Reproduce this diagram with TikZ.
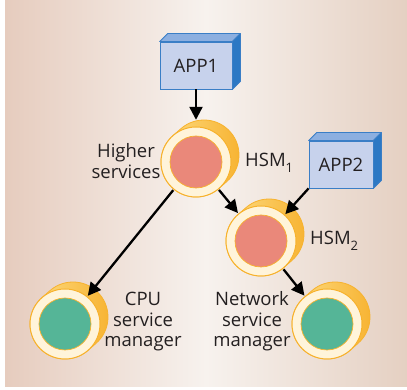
\documentclass[tikz,border=0pt]{standalone}
\usepackage{fontspec}
\setmainfont{Open Sans}
\usetikzlibrary{arrows.meta,calc}
\definecolor{bgL}{RGB}{230,204,190}
\definecolor{bgM}{RGB}{247,242,238}
\definecolor{bgR}{RGB}{229,208,194}
\definecolor{boxFront}{RGB}{199,210,236}
\definecolor{boxEdge}{RGB}{58,126,198}
\definecolor{boxTop}{RGB}{140,175,224}
\definecolor{boxSide}{RGB}{44,120,196}
\definecolor{coinL}{RGB}{253,222,135}
\definecolor{coinR}{RGB}{247,178,48}
\definecolor{coinEdge}{RGB}{247,178,45}
\definecolor{ringFill}{RGB}{255,244,218}
\definecolor{salmon}{RGB}{234,136,122}
\definecolor{teal}{RGB}{85,181,151}
\definecolor{txt}{RGB}{35,31,32}
\newcommand{\coin}[3]{%
  \shade[left color=coinL, right color=coinR, draw=coinEdge, line width=0.8pt]
    ($(#1,#2)+(131.2:35)$) -- ($(#1+8,#2+7)+(131.2:35)$)
    arc[start angle=131.2, end angle=-48.8, radius=35]
    -- ($(#1,#2)+(-48.8:35)$)
    arc[start angle=-48.8, end angle=-228.8, radius=35] -- cycle;
  \filldraw[fill=ringFill, draw=coinEdge, line width=1pt] (#1,#2) circle[radius=35];
  \filldraw[fill=#3, draw=coinEdge, line width=0.7pt] (#1,#2) circle[radius=26];
}
\newcommand{\boxfaces}[1]{%
  \filldraw[fill=boxTop, draw=boxEdge, line width=0.8pt, line join=round]
    (#1.north west) -- ++(8,8) -- ([shift={(8,8)}]#1.north east) -- (#1.north east) -- cycle;
  \filldraw[fill=boxSide, draw=boxEdge, line width=0.8pt, line join=round]
    (#1.south east) -- ([shift={(8,8)}]#1.south east) -- ([shift={(8,8)}]#1.north east) -- (#1.north east) -- cycle;
}
\tikzset{
  appbox/.style={draw=boxEdge, fill=boxFront, line width=0.8pt, inner sep=0pt,
    text=txt, font=\fontsize{18.5}{21}\selectfont},
  coinnode/.style={circle, minimum size=72pt, inner sep=0pt},
  lbl/.style={text=txt, font=\fontsize{18.5}{20.5}\selectfont, align=center, inner sep=0pt},
  arr/.style={line width=2.3pt, draw=black, -{Triangle[length=13pt,width=13pt]}},
}
\newcommand{\subnum}[1]{\raisebox{-0.28em}{\fontsize{13}{13}\selectfont #1}}
\begin{document}
\begin{tikzpicture}[x=1pt,y=1pt]
  \useasboundingbox (0,0) rectangle (407,390);
  \shade[left color=bgL, right color=bgR, middle color=bgM] (5,3) rectangle (407,390);

  % boxes
  \node[appbox, minimum width=72pt, minimum height=47pt] (app1) at (196,324.5) {APP1};
  \boxfaces{app1}
  \node[appbox, minimum width=64pt, minimum height=47pt] (app2) at (341,225.5) {APP2};
  \boxfaces{app2}

  % coins
  \coin{196}{228}{salmon}
  \coin{261}{149}{salmon}
  \coin{65}{66}{teal}
  \coin{327}{66}{teal}
  \node[coinnode] (hsm1) at (196,228) {};
  \node[coinnode] (hsm2) at (261,149) {};
  \node[coinnode] (cpu) at (65,66) {};
  \node[coinnode] (net) at (327,66) {};

  % labels
  \node[lbl] (lhigher) at (126,229) {Higher\\services};
  \node[lbl, anchor=base west] (lhsm1) at (245,223) {HSM\subnum{1}};
  \node[lbl, anchor=base west] (lhsm2) at (310,145) {HSM\subnum{2}};
  \node[lbl, anchor=base] (lcpu) at (143,43) {CPU\\service\\manager};
  \node[lbl, anchor=base] (lnet) at (252,43) {Network\\service\\manager};

  % connectors
  \draw[arr, shorten >=6pt] (app1.south) -- (hsm1.north);
  \draw[arr] (hsm1) -- (hsm2);
  \draw[arr] (app2.south west) -- (hsm2);
  \draw[arr] (hsm1) -- (cpu);
  \draw[arr] (hsm2) -- (net);
\end{tikzpicture}
\end{document}
